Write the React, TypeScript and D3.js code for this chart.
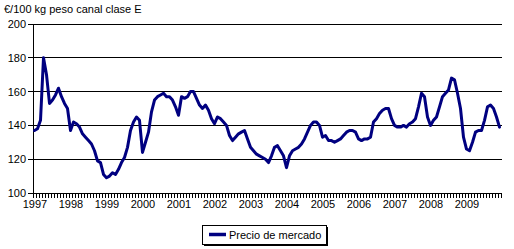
import React from "react";
import * as d3 from "d3";

const years = [1997, 1998, 1999, 2000, 2001, 2002, 2003, 2004, 2005, 2006, 2007, 2008, 2009];
const yTicks = [100, 120, 140, 160, 180, 200];
const unitLabel = "€/100 kg peso canal clase E";
const seriesName = "Precio de mercado";

// Monthly prices, Jan 1997 .. Dec 2009
const p1997 = [137, 138, 143, 180, 170, 153, 155, 158, 162, 157, 153, 150];
const p1998 = [137, 142, 141, 139, 135, 133, 131, 129, 125, 119, 118, 111];
const p1999 = [109, 110, 112, 111, 114, 118, 121, 127, 137, 142, 145, 143];
const p2000 = [124, 130, 136, 148, 155, 157, 158, 159, 157, 157, 155, 151];
const p2001 = [146, 157, 156, 157, 160, 160, 156, 152, 150, 152, 149, 144];
const p2002 = [141, 145, 144, 142, 140, 134, 131, 133, 135, 136, 137, 132];
const p2003 = [127, 125, 123, 122, 121, 120, 118, 122, 127, 128, 125, 122];
const p2004 = [115, 122, 125, 126, 127, 129, 132, 136, 140, 142, 142, 140];
const p2005 = [133, 134, 131, 131, 130, 131, 132, 134, 136, 137, 137, 136];
const p2006 = [132, 131, 132, 132, 133, 142, 144, 147, 149, 150, 150, 144];
const p2007 = [140, 139, 139, 140, 139, 141, 142, 144, 151, 159, 157, 145];
const p2008 = [140, 143, 145, 151, 157, 159, 161, 168, 167, 159, 150, 133];
const p2009 = [126, 125, 130, 136, 137, 137, 143, 151, 152, 150, 145, 139];

const prices = [
  ...p1997, ...p1998, ...p1999, ...p2000, ...p2001, ...p2002, ...p2003,
  ...p2004, ...p2005, ...p2006, ...p2007, ...p2008, ...p2009,
];

const FONT = "'Liberation Sans', Arial, sans-serif";

export default function App() {
  const W = 514, H = 249;
  const left = 33, right = 501, top = 24, bottom = 193;
  const n = prices.length;

  const xBand = d3.scaleBand<number>().domain(d3.range(n)).range([left, right]).padding(0);
  const xc = (i: number) => (xBand(i) as number) + xBand.bandwidth() / 2;
  const y = d3.scaleLinear().domain([100, 200]).range([bottom, top]);

  const line = d3.line<number>().x((_, i) => xc(i)).y((d) => y(d));
  const tickXs = d3.range(n + 1).map((k) => left + k * xBand.step());

  return (
    <svg width={W} height={H} style={{ position: "absolute", left: 0, top: 0, display: "block" }}
      fontFamily={FONT}>
      <rect x={0} y={0} width={W} height={H} fill="#fff" />
      <text x={4} y={13} fontSize={11} fill="#000">{unitLabel}</text>
      {yTicks.map((t) => (
        <g key={t}>
          {t > 100 && (
            <line x1={left} x2={right + 1} y1={y(t)} y2={y(t)} stroke="#000" strokeWidth={1} shapeRendering="crispEdges" />
          )}
          <line x1={left - 5} x2={left} y1={y(t)} y2={y(t)} stroke="#000" strokeWidth={1} shapeRendering="crispEdges" />
          <text x={left - 7} y={y(t) + 4} fontSize={11} textAnchor="end" fill="#000">{t}</text>
        </g>
      ))}
      <line x1={left} x2={left} y1={top} y2={bottom} stroke="#000" strokeWidth={1} shapeRendering="crispEdges" />
      <line x1={left} x2={right + 1} y1={bottom} y2={bottom} stroke="#000" strokeWidth={1} shapeRendering="crispEdges" />
      {tickXs.map((tx, k) => (
        <line key={k} x1={tx} x2={tx} y1={bottom} y2={bottom + 5} stroke="#000" strokeWidth={1} shapeRendering="crispEdges" />
      ))}
      {years.map((yr, k) => (
        <text key={yr} x={xc(k * 12) + 0.5} y={208} fontSize={11} textAnchor="middle" fill="#000">{yr}</text>
      ))}
      <path d={line(prices) as string} fill="none" stroke="#000080" strokeWidth={3} strokeLinejoin="round" strokeLinecap="round" />
      <g>
        <rect x={204} y={227} width={124} height={19} fill="#000" />
        <rect x={202.5} y={225.5} width={124} height={19} fill="#fff" stroke="#000" strokeWidth={1} />
        <line x1={209} x2={226} y1={234.5} y2={234.5} stroke="#000080" strokeWidth={3.5} />
        <text x={229} y={239} fontSize={11} fill="#000">{seriesName}</text>
      </g>
    </svg>
  );
}
